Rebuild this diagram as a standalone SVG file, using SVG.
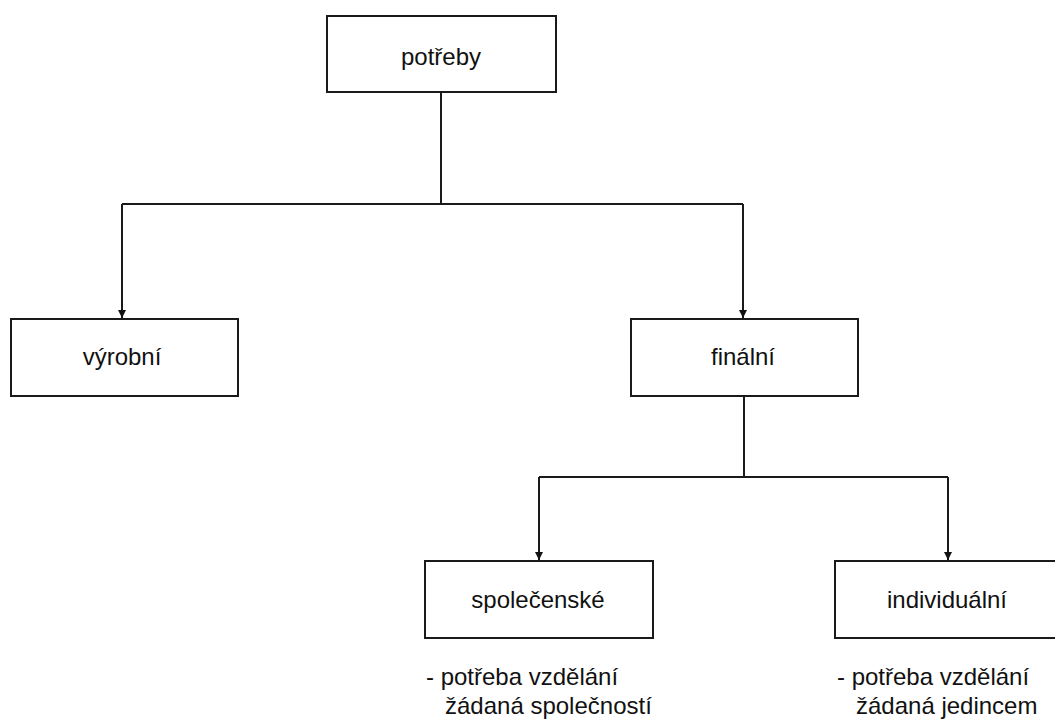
<svg xmlns="http://www.w3.org/2000/svg" width="1055" height="720" viewBox="0 0 1055 720">
<style>
.box{fill:#fff;stroke:#1a1a1a;stroke-width:2}
.lbl{font-family:"Liberation Sans",Arial,sans-serif;font-size:24px;fill:#111;text-anchor:middle}
.note{font-family:"Liberation Sans",Arial,sans-serif;font-size:24px;fill:#111}
.conn{fill:none;stroke:#1a1a1a;stroke-width:2}
</style>
<defs>
<marker id="arr" markerWidth="10" markerHeight="10" refX="9" refY="5" orient="auto" markerUnits="userSpaceOnUse" viewBox="0 0 10 10">
<path d="M1,1 L9,5 L1,9 Z" fill="#111"/>
</marker>
</defs>
<rect width="1055" height="720" fill="#fff"/>
<g id="connectors">
<polyline class="conn" points="441,92 441,204"/>
<polyline class="conn" points="122,204 743,204"/>
<polyline class="conn" points="122,204 122,318" marker-end="url(#arr)"/>
<polyline class="conn" points="743,204 743,318" marker-end="url(#arr)"/>
<polyline class="conn" points="744,396 744,477"/>
<polyline class="conn" points="539,477 948,477"/>
<polyline class="conn" points="539,477 539,560" marker-end="url(#arr)"/>
<polyline class="conn" points="948,477 948,560" marker-end="url(#arr)"/>
</g>
<g id="potreby">
<rect class="box" x="327" y="16" width="229" height="76"/>
<text class="lbl" x="441" y="65">potřeby</text>
</g>
<g id="vyrobni">
<rect class="box" x="11" y="319" width="227" height="77"/>
<text class="lbl" x="122" y="365">výrobní</text>
</g>
<g id="finalni">
<rect class="box" x="631" y="319" width="227" height="77"/>
<text class="lbl" x="743" y="365">finální</text>
</g>
<g id="spolecenske">
<rect class="box" x="425" y="561" width="228" height="77"/>
<text class="lbl" x="538" y="608">společenské</text>
<text class="note" x="426" y="685">- potřeba vzdělání</text>
<text class="note" x="445" y="714">žádaná společností</text>
</g>
<g id="individualni">
<rect class="box" x="835" y="561" width="228" height="77"/>
<text class="lbl" x="947" y="608">individuální</text>
<text class="note" x="837" y="685">- potřeba vzdělání</text>
<text class="note" x="856" y="714">žádaná jedincem</text>
</g>
</svg>
